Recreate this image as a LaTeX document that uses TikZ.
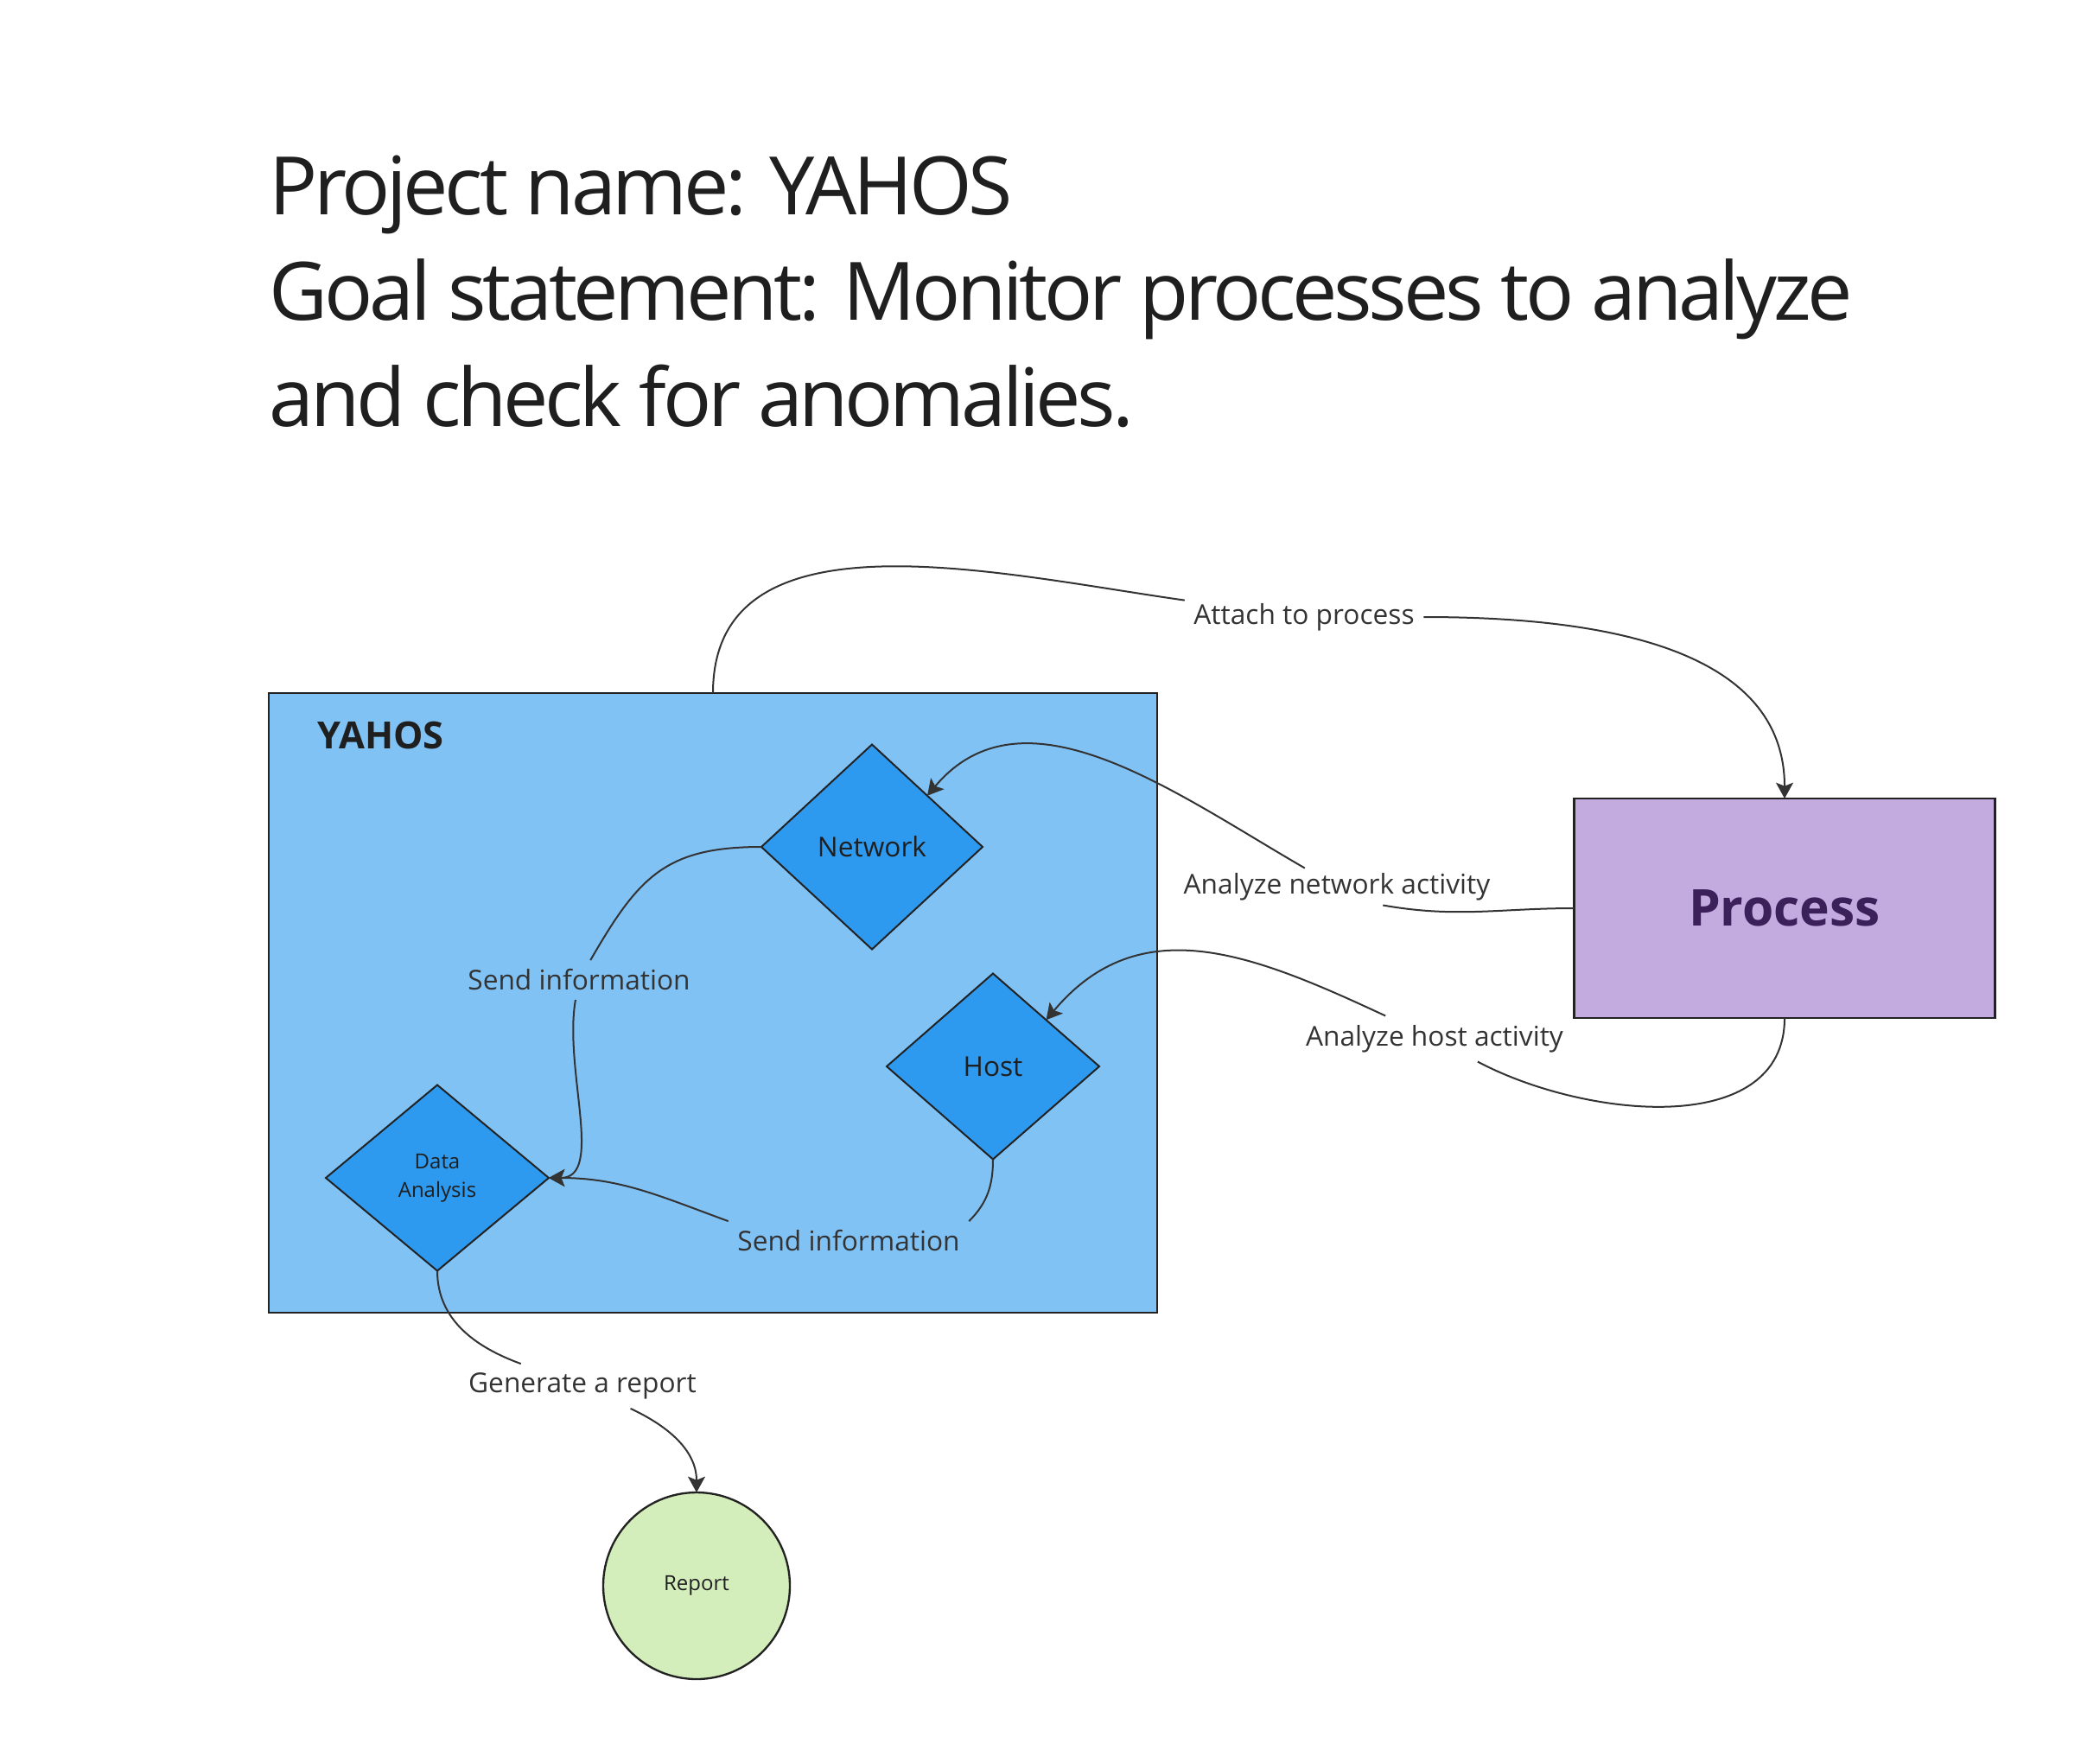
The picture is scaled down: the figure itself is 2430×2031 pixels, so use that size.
\documentclass[tikz,border=0pt]{standalone}
\usepackage{fontspec}
\setmainfont{Open Sans}
\newfontfamily\headfont{Open Sans}[LetterSpace=-4.6]
\usetikzlibrary{arrows.meta,shapes.geometric}
\definecolor{ink}{RGB}{51,51,51}
\definecolor{edge}{RGB}{34,34,34}
\definecolor{boxfill}{RGB}{129,194,245}
\definecolor{dfill}{RGB}{45,154,240}
\definecolor{pfill}{RGB}{195,171,224}
\definecolor{ptext}{RGB}{59,32,89}
\definecolor{rfill}{RGB}{211,237,187}
\tikzset{
  >={Stealth[length=5.5pt,width=6pt,inset=1.2pt]},
  sys/.style={draw=edge,line width=0.7pt,fill=boxfill,inner sep=0pt,outer sep=0pt,minimum width=308.4pt,minimum height=215.1pt},
  dec/.style={diamond,draw=edge,line width=0.6pt,fill=dfill,inner sep=0pt,outer sep=0pt,align=center,text=black!88},
  proc/.style={draw=edge,line width=0.7pt,fill=pfill,inner sep=0pt,outer sep=0pt,minimum width=146.1pt,minimum height=76.2pt,text=ptext,font=\bfseries\fontsize{17.6}{20}\selectfont},
  rep/.style={circle,draw=edge,line width=0.7pt,fill=rfill,inner sep=0pt,outer sep=0pt,minimum size=64.8pt,text=black!88,font=\fontsize{7.2}{9}\selectfont},
  lab/.style={text=ink,inner sep=3pt,font=\fontsize{9.5}{11}\selectfont},
  flow/.style={->,draw=ink,line width=0.6pt},
}
\begin{document}
\begin{tikzpicture}[x=0.3pt,y=0.3pt]
  \useasboundingbox (0,0) rectangle (2430,-2031);

  % heading (base = last line)
  \node[anchor=base west,align=left,inner sep=0pt,text=black!88,font=\headfont\fontsize{28}{36.75}\selectfont] (title) at (311,-493)
    {Project name: YAHOS\\Goal statement: Monitor processes to analyze\\and check for anomalies.};

  % the monitored system
  \node[sys] (yahos) at (825,-1160.5) {};
  \node[anchor=base west,inner sep=0pt,text=black!88,font=\bfseries\fontsize{13}{15}\selectfont] (sysname) at (367,-866) {YAHOS};
  \node[dec,minimum width=76.8pt,minimum height=71.1pt,font=\fontsize{9.5}{11}\selectfont] (net) at (1009,-980) {Network};
  \node[dec,minimum width=73.8pt,minimum height=64.5pt,font=\fontsize{9.5}{11}\selectfont] (host) at (1149,-1234) {Host};
  \node[dec,minimum width=77.4pt,minimum height=64.5pt,font=\fontsize{7.2}{10}\selectfont] (da) at (506,-1363) {Data\\Analysis};

  % outside
  \node[proc] (proc) at (2065,-1051) {Process};
  \node[rep] (rep) at (806,-1835) {Report};

  % connector labels
  \node[lab] (lA)  at (1509,-714)  {Attach to process};
  \node[lab,inner ysep=1.5pt] (lN) at (1547,-1026) {Analyze network activity};
  \node[lab] (lH)  at (1660,-1202) {Analyze host activity};
  \node[lab] (lS1) at (670,-1134)  {Send information};
  \node[lab] (lS2) at (982,-1436)  {Send information};
  \node[lab] (lG)  at (674,-1604)  {Generate a report};

  % flows
  \draw[flow] (yahos.north) to[out=90,in=172] (lA) to[out=0,in=90] (proc.north);
  \draw[flow] (proc.west) to[out=180,in=-10] (lN.-22) (lN) to[out=150,in=50] (net.north east);
  \draw[flow] (proc.south) to[out=-90,in=-28] (lH) to[out=155,in=50,looseness=1.1] (host.north east);
  \draw[flow] (net.west) to[out=180,in=60,looseness=1.2] (lS1) to[out=-100,in=0,in looseness=0.8] (da.east);
  \draw[flow] (host.south) to[out=-90,in=45] (lS2.north east) (lS2.north west) to[out=160,in=0] (da.east);
  \draw[flow] (da.south) to[out=-90,in=160] (lG) to[out=-25,in=90] (rep.north);
\end{tikzpicture}
\end{document}
